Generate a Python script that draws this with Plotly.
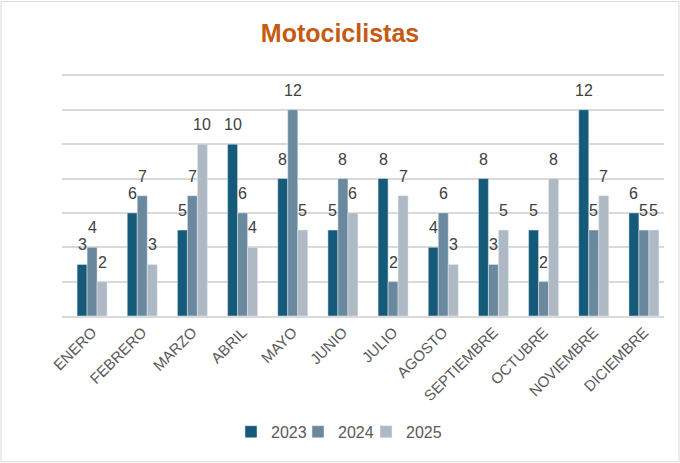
import plotly.graph_objects as go

months = ["ENERO", "FEBRERO", "MARZO", "ABRIL", "MAYO", "JUNIO", "JULIO",
          "AGOSTO", "SEPTIEMBRE", "OCTUBRE", "NOVIEMBRE", "DICIEMBRE"]
v2023 = [3, 6, 5, 10, 8, 5, 8, 4, 8, 5, 12, 6]
v2024 = [4, 7, 7, 6, 12, 8, 2, 6, 3, 2, 5, 5]
v2025 = [2, 3, 10, 4, 5, 6, 7, 3, 5, 8, 7, 5]
series = [("2023", v2023, "#155A78"), ("2024", v2024, "#6A889E"), ("2025", v2025, "#AEB9C4")]

# plot area: x 62..664, y 75 (value 14) .. 316 (value 0)
L, R, T0, B = 62, 664, 75, 316
pw = R - L
unit = (B - T0) / 14
ytop = 14.2
ph = ytop * unit
cat_px = pw / 12
bargap = 0.402
bar_px = cat_px * (1 - bargap) / 3
xshift_units = 5 / cat_px  # bars sit 5px right of the gridline-centred slots
legend_left_px = [231, 298, 366]
legend_names = ["legend", "legend2", "legend3"]

fig = go.Figure()
for i, (name, vals, color) in enumerate(series):
    fig.add_trace(go.Bar(x=months, y=vals, name=name, marker_color=color,
                         legend=legend_names[i], showlegend=True))
    for m, v in zip(months, vals):
        fig.add_annotation(x=m, y=v, text=str(v), showarrow=False,
                           xshift=(i - 1) * bar_px, yshift=19.5,
                           yanchor="middle", xanchor="center",
                           font=dict(size=16, color="#404040"))

legend_cfg = {}
for lname, lx in zip(legend_names, legend_left_px):
    legend_cfg[lname] = dict(orientation="h", x=(lx - L) / pw, xanchor="left",
                             y=(B - 432) / ph, yanchor="middle",
                             font=dict(size=16, color="#595959"),
                             itemwidth=30, bgcolor="rgba(0,0,0,0)")

fig.update_layout(
    width=680, height=463,
    showlegend=True,
    margin=dict(l=L, r=680 - R, t=B - ph, b=463 - B, autoexpand=False),
    paper_bgcolor="white", plot_bgcolor="white",
    font=dict(family="Liberation Sans, Arial, sans-serif", color="#595959"),
    title=dict(text="<b>Motociclistas</b>", x=(340 - L) / pw, xanchor="center",
               xref="paper",
               y=1 - 33 / 463, yanchor="middle", automargin=False,
               font=dict(size=25, color="#C55A11")),
    barmode="group", bargap=bargap, bargroupgap=0,
    xaxis=dict(range=[-0.5 - xshift_units, 11.5 - xshift_units],
               tickangle=-45, tickfont=dict(size=15, color="#595959"),
               showline=True, linecolor="#D9D9D9", linewidth=1.5, ticks="",
               automargin=False),
    yaxis=dict(range=[0, ytop], tickvals=[0, 2, 4, 6, 8, 10, 12, 14],
               showticklabels=False,
               showgrid=True, gridcolor="#D9D9D9", gridwidth=1.5,
               zeroline=False, automargin=False),
    **legend_cfg,
)
fig.add_shape(type="rect", xref="paper", yref="paper",
              x0=(1 - L) / pw, x1=(679 - L) / pw,
              y0=(B - 462) / ph, y1=(B - 1) / ph,
              line=dict(color="#D9D9D9", width=1), layer="below")
fig.write_html("out.html", config={"displayModeBar": False},
               post_script="document.body.style.margin='0';document.body.style.padding='0';")
